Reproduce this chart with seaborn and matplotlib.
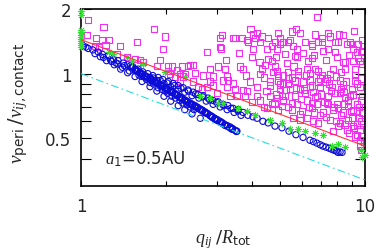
import matplotlib
matplotlib.use("Agg")
import matplotlib.pyplot as plt
import matplotlib.ticker as mticker
import seaborn as sns

# -----------------------------
# Data
# -----------------------------
# magenta squares
mag_q = [1.06, 1.20, 1.05, 1.13, 1.19, 1.25, 1.12, 1.16, 1.22, 1.37,
         1.57, 1.81, 1.98, 1.94, 1.45, 1.34, 1.55, 1.61, 1.65, 1.90,
         1.85, 2.03, 2.09, 2.03, 2.18, 2.27, 2.42, 2.48, 2.06, 2.23,
         2.14, 2.23, 2.29, 2.52, 2.58, 2.67, 2.78, 2.85, 2.92, 3.09,
         3.09, 3.14, 3.43, 3.69, 3.84, 3.04, 3.21, 3.27, 3.49, 3.43,
         3.63, 3.72, 3.72, 3.84, 3.54, 3.35, 3.27, 3.01, 2.78, 2.69,
         2.92, 3.11, 2.85, 3.16, 3.29, 2.48, 2.38, 2.32,
         6.77, 3.49, 3.87, 4.03, 4.10, 4.17, 4.34, 4.27, 4.56, 4.82,
         5.02, 5.14, 5.44, 5.53, 5.90, 6.67, 7.41, 7.53, 8.37, 6.15,
         6.50, 6.83, 7.05, 7.84, 8.03, 8.64, 9.00, 9.37, 9.76,
         4.03, 4.52, 4.90, 5.58, 5.76, 7.11, 7.41, 7.84, 9.07, 9.37, 9.68,
         4.56, 4.70, 6.30, 6.50, 5.76, 8.37, 9.60,
         4.34, 4.82, 6.25, 6.67, 7.71, 8.50, 9.22,
         4.27, 4.94, 5.36, 5.81,
         3.94, 4.63, 4.94, 5.36, 6.05, 6.40, 6.83, 7.35, 8.17, 9.22, 9.68,
         4.17, 4.63, 5.02, 5.44, 5.90, 6.40, 6.94, 7.65, 8.23, 9.00, 9.60,
         3.78, 4.17, 4.63, 5.10, 5.67, 6.15, 6.77, 7.41, 8.17, 8.85, 9.76,
         4.00, 4.27, 4.70, 5.14, 5.76, 6.25, 6.77, 7.35, 7.97, 8.71, 9.37, 9.68,
         4.52, 4.94, 5.53, 6.00, 6.50, 7.11, 7.71, 8.37, 9.07, 9.76,
         5.58, 6.25, 6.83, 7.53, 8.17, 8.71, 9.37, 9.68,
         7.71, 8.64, 9.37, 9.60, 9.68, 9.60, 9.92,
         7.05, 8.85, 9.45, 9.76, 6.50, 5.23, 4.70, 5.02, 5.36, 5.67, 8.50, 9.07, 9.76,
         6.83, 4.90, 5.14, 5.81, 6.40, 7.05, 7.53, 8.23, 9.22,
         5.02, 5.36, 5.67, 6.50, 7.23, 8.37,
         4.90, 5.23, 6.67, 7.84, 8.50,
         5.10, 5.53, 6.50, 7.41, 8.03, 8.71, 9.37, 9.00, 8.23, 6.94, 5.90,
         9.60, 9.07, 8.03, 9.76, 9.22,
         4.45, 4.85, 5.30, 5.60, 6.05, 6.60, 7.30, 7.95, 8.80, 9.45,
         4.40, 4.75, 5.15, 5.55, 6.20, 6.95, 7.45, 7.90, 8.55, 9.40,
         4.50, 4.85, 5.25, 5.70, 6.10, 6.55, 7.00, 7.60, 8.40, 9.10,
         4.40, 4.80, 5.35, 5.95, 6.35, 7.20, 7.75, 8.45, 8.95, 9.50,
         5.90, 6.55, 7.30, 7.90, 8.50, 9.15, 9.85, 8.80, 9.50, 6.60,
         4.00, 3.60, 3.25, 3.80, 4.25, 8.10, 9.15, 5.70, 4.95, 3.95]
mag_v = [1.78, 1.65, 1.51, 1.47, 1.44, 1.43, 1.34, 1.33, 1.36, 1.34,
         1.41, 1.62, 1.49, 1.30, 1.20, 1.23, 1.17, 1.16, 1.13, 1.16,
         1.09, 1.08, 1.08, 1.03, 1.04, 1.08, 1.10, 1.10, 1.00, 1.00,
         0.97, 0.93, 0.97, 1.01, 0.87, 0.85, 0.87, 0.92, 0.88, 1.33,
         1.47, 1.51, 1.46, 1.46, 1.43, 1.08, 1.05, 0.87, 0.85, 0.90,
         1.08, 1.05, 0.84, 0.83, 0.79, 0.79, 0.97, 0.81, 1.26, 0.98,
         0.97, 1.31, 1.05, 0.93, 0.93, 0.92, 1.09, 1.00,
         1.84, 1.46, 1.41, 1.52, 1.46, 1.54, 1.49, 1.41, 1.46, 1.41,
         1.46, 1.41, 1.44, 1.57, 1.55, 1.52, 1.54, 1.49, 1.51, 1.40,
         1.34, 1.41, 1.40, 1.40, 1.40, 1.37, 1.38, 1.37, 1.44,
         1.30, 1.30, 1.31, 1.34, 1.30, 1.27, 1.30, 1.26, 1.30, 1.26, 1.26,
         1.17, 1.15, 1.15, 1.18, 1.20, 1.13, 1.15,
         1.05, 1.08, 1.05, 1.05, 1.05, 1.05, 1.05,
         1.00, 0.98, 1.02, 1.03,
         0.92, 0.92, 0.93, 0.95, 0.92, 0.93, 0.92, 0.95, 0.93, 0.93, 0.95,
         0.87, 0.88, 0.85, 0.85, 0.85, 0.87, 0.87, 0.87, 0.85, 0.85, 0.87,
         0.79, 0.79, 0.79, 0.79, 0.79, 0.81, 0.79, 0.79, 0.81, 0.79, 0.79,
         0.74, 0.75, 0.72, 0.75, 0.72, 0.75, 0.72, 0.73, 0.72, 0.75, 0.72, 0.75,
         0.69, 0.68, 0.68, 0.67, 0.69, 0.66, 0.68, 0.66, 0.68, 0.66,
         0.62, 0.62, 0.59, 0.61, 0.59, 0.61, 0.58, 0.60,
         0.54, 0.55, 0.52, 0.49, 0.44, 0.46, 0.48,
         1.47, 1.40, 1.38, 1.27, 1.37, 1.23, 1.34, 1.37, 1.41, 1.21, 1.13, 1.15, 1.11,
         1.03, 1.03, 0.98, 0.99, 1.01, 0.99, 1.00, 1.02, 0.99,
         0.89, 0.90, 0.93, 0.88, 0.92, 0.89,
         0.77, 0.79, 0.78, 0.81, 0.78,
         0.71, 0.73, 0.73, 0.72, 0.69, 0.71, 0.67, 0.62, 0.64, 0.64, 0.65,
         0.55, 0.57, 0.57, 0.51, 0.51,
         1.10, 1.20, 1.12, 1.08, 1.25, 1.22, 1.16, 1.20, 1.22, 1.18,
         0.96, 1.02, 0.90, 0.96, 0.98, 0.95, 0.90, 0.97, 0.92, 0.90,
         0.83, 0.80, 0.84, 0.86, 0.84, 0.82, 0.80, 0.83, 0.82, 0.80,
         0.70, 0.73, 0.70, 0.76, 0.70, 0.74, 0.70, 0.72, 0.67, 0.70,
         0.61, 0.60, 0.63, 0.60, 0.58, 0.56, 0.58, 0.53, 0.62, 0.66,
         1.20, 1.25, 1.16, 0.98, 1.13, 1.52, 1.58, 1.62, 1.55, 1.62]

# blue circles: upper band along the red line (extra rows where it is thick)
blue_upper_q = [1.01, 1.02, 1.04, 1.06, 1.10, 1.15, 1.19, 1.25, 1.30, 1.35,
                1.41, 1.46, 1.52, 1.59, 1.65, 1.72, 1.79, 1.87, 1.94, 2.03,
                2.11, 2.20, 2.29, 2.38, 2.48, 2.58, 2.69, 2.80, 2.92, 3.04,
                3.16, 3.29, 3.43, 3.57, 3.72, 3.87, 4.03, 4.17, 4.37, 4.56,
                4.82, 5.10, 5.40, 5.71, 6.05, 6.40, 6.58, 6.77, 6.95, 7.11,
                7.29, 7.47, 7.62, 7.78, 7.92, 8.03, 8.17, 8.30,
                1.75, 1.85, 1.96, 2.07, 2.20, 2.32, 2.46, 2.60, 2.76, 2.92,
                3.09, 3.27, 3.46, 3.66,
                1.12, 1.20, 1.27, 1.33, 1.42,
                1.80, 1.90, 2.01, 2.13, 2.25, 2.39, 2.53, 2.68, 2.84, 3.00,
                3.18, 3.37, 3.57]
blue_upper_v = [1.36, 1.34, 1.33, 1.31, 1.29, 1.26, 1.23, 1.21, 1.17, 1.15,
                1.12, 1.10, 1.08, 1.05, 1.02, 1.00, 0.98, 0.96, 0.94, 0.92,
                0.90, 0.88, 0.86, 0.84, 0.82, 0.80, 0.79, 0.77, 0.75, 0.74,
                0.72, 0.71, 0.69, 0.68, 0.66, 0.64, 0.63, 0.62, 0.60, 0.59,
                0.57, 0.56, 0.54, 0.52, 0.505, 0.49, 0.483, 0.475, 0.467, 0.46,
                0.455, 0.45, 0.445, 0.44, 0.437, 0.43, 0.432, 0.43,
                0.96, 0.93, 0.90, 0.87, 0.845, 0.82, 0.79, 0.77, 0.745, 0.72,
                0.70, 0.68, 0.66, 0.64,
                1.24, 1.19, 1.16, 1.12, 1.09,
                0.955, 0.93, 0.905, 0.88, 0.855, 0.83, 0.805, 0.78, 0.755, 0.735,
                0.71, 0.69, 0.67]

# blue circles: thick steep band
blue_band_q = [1.49, 1.55, 1.61, 1.68, 1.75, 1.82, 1.90, 1.98, 2.06, 2.14,
               2.23, 2.32, 2.42, 2.52, 2.63, 2.73, 2.85, 2.96, 3.09, 3.21,
               3.35, 3.49, 3.54,
               1.58, 1.64, 1.71, 1.79, 1.86, 1.94, 2.02, 2.10, 2.18, 2.27,
               2.37, 2.47, 2.57, 2.68, 2.79, 2.90, 3.02, 3.15, 3.27, 3.41,
               1.52, 1.58, 1.645, 1.715, 1.785, 1.86, 1.94, 2.02, 2.10, 2.185,
               2.275, 2.37, 2.47, 2.575, 2.68, 2.79, 2.905, 3.025, 3.15, 3.28, 3.42,
               1.55, 1.61, 1.68, 1.75, 1.82, 1.90, 1.98, 2.06, 2.14, 2.23,
               2.32, 2.42, 2.52, 2.63, 2.73, 2.85, 2.96, 3.09, 3.21, 3.35,
               1.505, 1.566, 1.626, 1.697, 1.768, 1.838, 1.919, 2.00, 2.081, 2.161,
               2.252, 2.343, 2.444, 2.545, 2.656, 2.757, 2.879, 2.99, 3.121, 3.242,
               3.384, 3.525]
blue_band_v = [1.085, 1.05, 1.015, 0.98, 0.95, 0.92, 0.89, 0.86, 0.835, 0.81,
               0.78, 0.755, 0.73, 0.71, 0.685, 0.665, 0.64, 0.62, 0.60, 0.58,
               0.565, 0.545, 0.54,
               1.03, 0.99, 0.955, 0.925, 0.90, 0.87, 0.84, 0.815, 0.79, 0.76,
               0.735, 0.71, 0.69, 0.67, 0.65, 0.625, 0.605, 0.585, 0.57, 0.55,
               1.067, 1.032, 0.997, 0.965, 0.935, 0.905, 0.875, 0.847, 0.822, 0.795,
               0.767, 0.742, 0.72, 0.697, 0.675, 0.652, 0.63, 0.61, 0.59, 0.572, 0.555,
               1.04, 1.006, 0.972, 0.941, 0.912, 0.882, 0.853, 0.826, 0.801, 0.775,
               0.748, 0.723, 0.702, 0.68, 0.658, 0.636, 0.614, 0.595, 0.575, 0.558,
               1.072, 1.037, 1.003, 0.968, 0.939, 0.909, 0.879, 0.85, 0.825, 0.80,
               0.771, 0.746, 0.721, 0.701, 0.677, 0.657, 0.632, 0.613, 0.593, 0.573,
               0.558, 0.538]

# blue circles: lower fan and the wedge above it
blue_fan_q = [1.17, 1.23, 1.31, 1.38, 1.46, 1.55, 1.64, 1.75, 1.85, 1.96,
              2.07, 2.20, 2.32, 2.46, 2.63,
              1.55, 1.64, 1.75, 1.87, 1.98, 2.09, 2.23, 2.36, 2.50,
              1.28, 1.35, 1.40, 1.48, 1.60, 1.70, 1.80, 1.93, 2.02, 2.15,
              2.28, 2.42]
blue_fan_v = [1.20, 1.15, 1.10, 1.05, 1.01, 0.97, 0.92, 0.87, 0.83, 0.785,
              0.745, 0.71, 0.68, 0.65, 0.62,
              1.03, 0.97, 0.91, 0.86, 0.83, 0.785, 0.75, 0.715, 0.68,
              1.14, 1.11, 1.07, 1.03, 0.985, 0.94, 0.895, 0.845, 0.81, 0.77,
              0.73, 0.70]

# green stars
green_q = [1.0, 1.0, 1.0, 1.0, 1.0, 1.0, 1.0, 1.0, 1.0, 1.0, 1.0,
           1.25, 1.30, 1.45, 1.51, 1.65, 1.98, 2.32, 2.63, 2.85, 3.04,
           3.16, 3.57, 3.84, 4.10, 4.63, 5.10, 5.44, 5.81, 6.15, 6.67,
           7.11, 7.65, 8.03, 8.50, 9.68, 9.76, 9.98]
green_v = [1.95, 1.88, 1.60, 1.56, 1.52, 1.48, 1.45, 1.42, 1.39, 1.36, 1.33,
           1.26, 1.23, 1.20, 1.15, 1.11, 1.02, 0.97, 0.79, 0.77, 0.73,
           0.73, 0.69, 0.67, 0.64, 0.61, 0.59, 0.55, 0.55, 0.54, 0.53,
           0.52, 0.46, 0.47, 0.455, 0.44, 0.41, 0.42]

# reference lines
red_q = [1.0, 10.0]
red_v = [1.44, 0.46]
cyan_q = [1.0, 10.0]
cyan_v = [1.0, 0.32]

x_major = [1, 10]
x_minor = [2, 3, 4, 5, 6, 7, 8, 9]
y_major = [0.5, 1, 2]
y_minor = [0.4, 0.6, 0.7, 0.8, 0.9]

BLUE = "#0c0cd8"
MAGENTA = "#f030f0"
GREEN = "#33dd33"
RED = "#ff3333"
CYAN = "#22dddd"

# -----------------------------
# Style
# -----------------------------
sns.set_style("ticks")
plt.rcParams["font.family"] = ["DejaVu Sans"]
plt.rcParams["mathtext.fontset"] = "custom"
plt.rcParams["mathtext.it"] = "Liberation Serif:italic"
plt.rcParams["mathtext.rm"] = "DejaVu Sans"
plt.rcParams["mathtext.sf"] = "DejaVu Sans"

fig = plt.figure(figsize=(3.82, 2.53), dpi=100)
ax = fig.add_axes([81 / 382, 66 / 253, 284 / 382, 177 / 253])

# -----------------------------
# Points and lines
# -----------------------------
sns.scatterplot(x=mag_q, y=mag_v, ax=ax, marker="s", s=20,
                color=MAGENTA, facecolor="none", edgecolor=MAGENTA,
                linewidth=0.8, zorder=2)

for bq, bv in [(blue_upper_q, blue_upper_v),
               (blue_band_q, blue_band_v),
               (blue_fan_q, blue_fan_v)]:
    sns.scatterplot(x=bq, y=bv, ax=ax, marker="o", s=20,
                    color=BLUE, facecolor="none", edgecolor=BLUE,
                    linewidth=0.8, zorder=3)

sns.scatterplot(x=green_q, y=green_v, ax=ax, marker=(8, 2, 0), s=22,
                color=GREEN, linewidth=0.6, zorder=4, clip_on=False)

sns.lineplot(x=red_q, y=red_v, ax=ax, color=RED, linewidth=0.8, zorder=5)
sns.lineplot(x=cyan_q, y=cyan_v, ax=ax, color=CYAN, linewidth=0.8,
             linestyle=(0, (7, 3, 1.5, 3)), zorder=5)

# -----------------------------
# Axes
# -----------------------------
ax.set_xscale("log")
ax.set_yscale("log")
ax.set_xlim(1, 10)
ax.set_ylim(0.3, 2)

ax.set_xticks(x_major, labels=[str(v) for v in x_major])
ax.set_xticks(x_minor, minor=True)
ax.set_yticks(y_major, labels=["0.5", "1", "2"])
ax.set_yticks(y_minor, minor=True)
ax.xaxis.set_minor_formatter(mticker.NullFormatter())
ax.yaxis.set_minor_formatter(mticker.NullFormatter())

ax.tick_params(axis="both", which="both", direction="in", top=True,
               right=True, width=0.8, labelsize=12, color="black")
ax.tick_params(axis="x", which="both", length=3.5, pad=8)
ax.tick_params(axis="y", which="both", length=7, pad=7)
for sp in ax.spines.values():
    sp.set_linewidth(1.2)
    sp.set_color("black")

ax.set_xlabel(r"$q_{ij}\;{\rm /}R_{\rm tot}$", fontsize=13)
ax.xaxis.set_label_coords(0.5, -0.23)
ax.set_ylabel(r"$v_{\rm peri}\;{\rm /}v_{ij{\rm ,contact}}$", fontsize=14)
ax.yaxis.set_label_coords(-0.18, 0.47)

ax.text(1.21, 0.405, r"$a_{\rm 1}$=0.5AU", fontsize=12, va="center")

fig.savefig("out.png", dpi=100)
plt.close(fig)
